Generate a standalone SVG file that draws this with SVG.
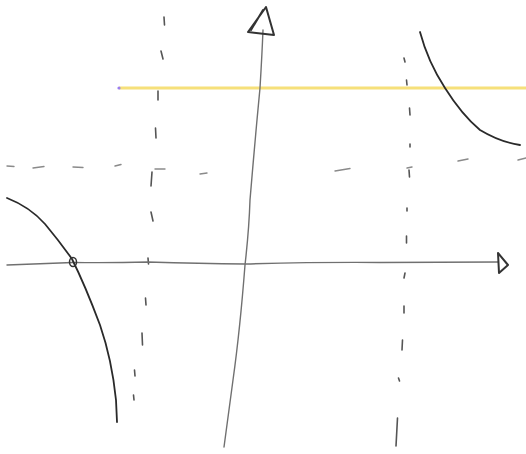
<svg xmlns="http://www.w3.org/2000/svg" width="526" height="454" viewBox="0 0 526 454">
<style>
.axis{fill:none;stroke:#707070;stroke-width:1.4;stroke-linecap:round;stroke-linejoin:round}
.curve{fill:none;stroke:#2a2a2a;stroke-width:1.8;stroke-linecap:round;stroke-linejoin:round}
.dash{fill:none;stroke:#555;stroke-width:1.6;stroke-linecap:round}
.hdash{fill:none;stroke:#8a8a8a;stroke-width:1.4;stroke-linecap:round}
.head{fill:none;stroke:#333;stroke-width:2;stroke-linejoin:round;stroke-linecap:round}
</style>
<rect width="526" height="454" fill="#ffffff"/>
<g id="yellow-line">
<line x1="119" y1="88" x2="526" y2="88" stroke="#f6e07a" stroke-width="3"/>
<circle cx="119" cy="88" r="1.6" fill="#9a7ef0"/>
</g>
<g id="h-asymptote">
<path class="hdash" d="M7 166 L14 166.5 M33 168 L44 166.5 M73 167 L83 167.5 M115 166 L121 164.5 M155 169 L165 169 M200 174 L207 173 M335 171 L350 168.5 M407 168 L412 167 M458 161 L468 159 M518 160 L526 158"/>
</g>
<g id="v-asymptote-left">
<path class="dash" d="M164 17 L164.5 25 M161 51 L163 59 M158 91 L158 100 M155.5 128 L156 138 M152 172 L151 186 M151 212 L153 221 M148 258 L148.5 264 M145.5 298 L146 305 M142 333 L142.5 345 M134.5 370 L135 376 M133.5 395 L134 400"/>
</g>
<g id="v-asymptote-right">
<path class="dash" d="M404 58 L405 62 M406.5 80 L407 85 M409.5 108 L410 115 M410 144 L410 147 M409 170 L409.5 177 M407 208 L407 211 M406.5 236 L406.5 243 M405 273 L404 278 M404 306 L404 313 M402.5 340 L402 350 M398.5 378 L399.5 381 M397.5 418 L396 446"/>
</g>
<g id="x-axis">
<path class="axis" d="M7 265 Q40 263.5 73 262.5 Q110 263 148 262 Q200 263.5 245 264 Q320 262 380 262.5 Q440 262 498 262"/>
<path class="head" d="M498 253 L499 273 L508 265 Z"/>
</g>
<g id="y-axis">
<path class="axis" d="M224 447 Q229 410 233 380 Q240 330 245 265 Q249 230 250 200 Q255 140 260 88 Q262 55 263 30"/>
<path class="head" d="M266 7 L248 32 L274 35 Z M263 10 L251 30"/>
</g>
<g id="left-curve">
<path class="curve" d="M7 198 Q30 207 45 224 Q60 242 72 259 Q85 285 100 325 Q112 360 116 400 L117 422"/>
<ellipse cx="73" cy="262" rx="3.5" ry="4.5" fill="none" stroke="#333" stroke-width="1.5"/>
</g>
<g id="right-curve">
<path class="curve" d="M420 32 Q428 62 445 88 Q462 115 480 130 Q500 142 520 145"/>
</g>
</svg>
